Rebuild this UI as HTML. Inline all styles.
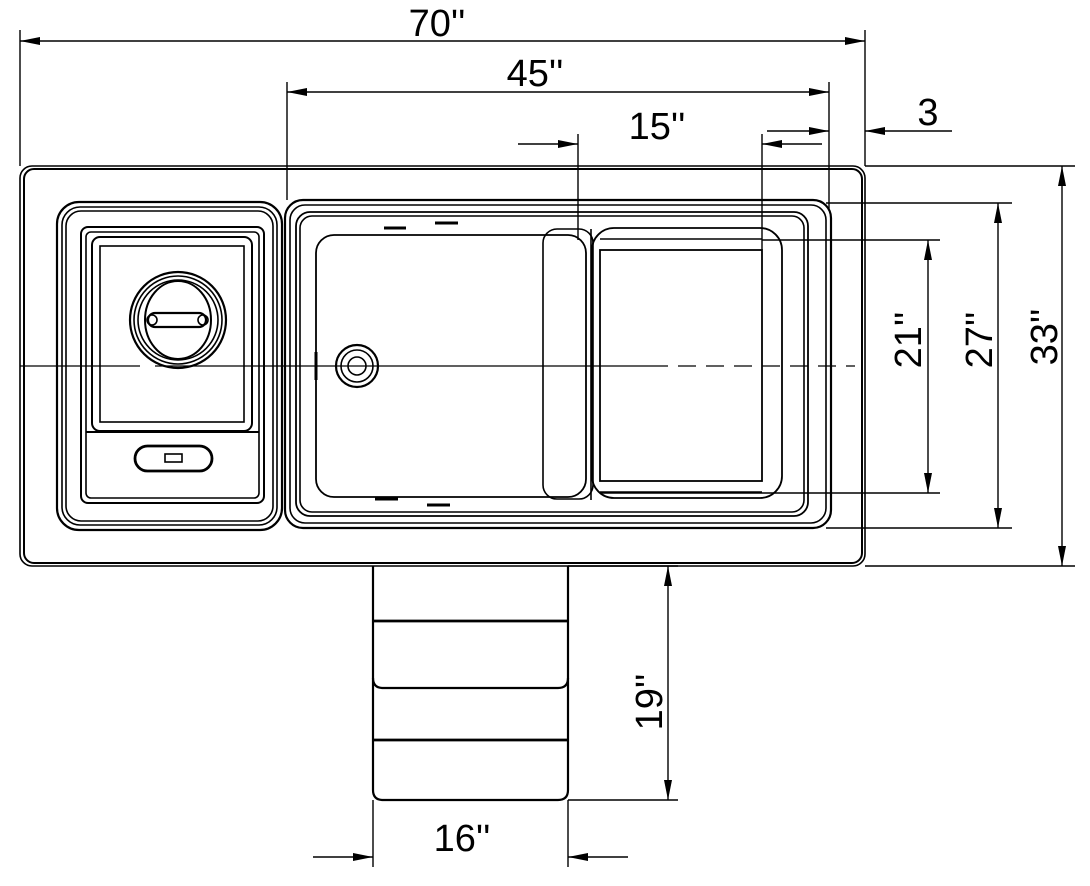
<!DOCTYPE html>
<html><head><meta charset="utf-8"><style>
html,body{margin:0;padding:0;background:#fff;}
svg{display:block;}
text{font-family:"Liberation Sans","DejaVu Sans",sans-serif;fill:#000;}
</style></head><body>
<svg width="1090" height="886" viewBox="0 0 1090 886" xmlns="http://www.w3.org/2000/svg">
<defs>
<marker id="a" viewBox="0 0 20 8" refX="20" refY="4" markerWidth="22" markerHeight="8" markerUnits="userSpaceOnUse" orient="auto-start-reverse"><path d="M0,0 L20,4 L0,8 z" fill="#000"/></marker>
</defs>
<g fill="none" stroke="#000" stroke-width="1.6">
<!-- countertop -->
<rect x="20" y="166" width="845" height="400" rx="12"/>
<rect x="24" y="169" width="838" height="394" rx="10" stroke-width="2"/>
<!-- left bowl -->
<rect x="57" y="202" width="225" height="328" rx="22" stroke-width="2.2"/>
<rect x="62" y="207" width="215" height="318" rx="18"/>
<rect x="66" y="211" width="207" height="310" rx="15"/>
<rect x="81" y="227" width="183" height="276" rx="7" stroke-width="2"/>
<rect x="86" y="232" width="173" height="266" rx="5"/>
<rect x="92" y="237" width="160" height="194" rx="8" stroke-width="2"/>
<rect x="100" y="246" width="144" height="176"/>
<line x1="86" y1="432" x2="259" y2="432" stroke-width="2"/>
<circle cx="178" cy="320" r="48" stroke-width="2.2"/>
<circle cx="178" cy="320" r="44"/>
<circle cx="178" cy="320" r="40"/>
<ellipse cx="178" cy="320" rx="33" ry="39" stroke-width="2"/>
<rect x="148" y="313" width="58" height="14" rx="7" stroke-width="2.2"/>
<circle cx="152" cy="320" r="5"/>
<circle cx="203" cy="320" r="5"/>
<rect x="135" y="446" width="77" height="25" rx="12.5" stroke-width="2.8"/>
<rect x="165" y="454" width="17" height="8"/>
<!-- right bowl -->
<rect x="285" y="200" width="546" height="328" rx="18" stroke-width="2.2"/>
<rect x="290" y="205" width="536" height="318" rx="15"/>
<rect x="296" y="212" width="512" height="304" rx="14" stroke-width="1.8"/>
<rect x="300" y="216" width="504" height="296" rx="12"/>
<rect x="316" y="235" width="270" height="262" rx="18" stroke-width="1.8"/>
<rect x="543" y="229" width="50" height="270" rx="14"/>
<line x1="591" y1="229" x2="591" y2="500"/>
<rect x="592" y="228" width="190" height="270" rx="22" stroke-width="1.8"/>
<rect x="600" y="250" width="162" height="231" stroke-width="1.8"/>
<line x1="600" y1="239" x2="762" y2="239"/>
<line x1="600" y1="492" x2="762" y2="492"/>
<circle cx="357" cy="366" r="21" stroke-width="2.2"/>
<circle cx="357" cy="366" r="16"/>
<circle cx="357" cy="366" r="9"/>
<line x1="316" y1="352" x2="316" y2="380" stroke-width="3"/>
<line x1="384" y1="228" x2="406" y2="228" stroke-width="3"/>
<line x1="435" y1="223" x2="458" y2="223" stroke-width="3"/>
<line x1="375" y1="499" x2="398" y2="499" stroke-width="3"/>
<line x1="427" y1="505" x2="450" y2="505" stroke-width="3"/>
<!-- centerline -->
<line x1="20" y1="366" x2="140" y2="366" stroke-width="1.3"/>
<line x1="155" y1="366" x2="650" y2="366" stroke-width="1.3"/>
<path d="M650 366 H855" stroke-dasharray="18 10" stroke-width="1.3"/>
<!-- drawer -->
<path d="M373 566 V790 Q373 800 383 800 H558 Q568 800 568 790 V566" stroke-width="2.2"/>
<line x1="373" y1="621" x2="568" y2="621" stroke-width="2.8"/>
<path d="M373 678 Q373 688 383 688 H558 Q568 688 568 678" stroke-width="2.2"/>
<line x1="373" y1="740" x2="568" y2="740" stroke-width="2.8"/>
</g>
<!-- dimensions -->
<g stroke="#000" stroke-width="1.4" fill="none">
<line x1="20" y1="30" x2="20" y2="166"/>
<line x1="865" y1="30" x2="865" y2="166"/>
<line x1="20" y1="41" x2="865" y2="41" marker-start="url(#a)" marker-end="url(#a)"/>
<line x1="287" y1="82" x2="287" y2="200"/>
<line x1="829" y1="82" x2="829" y2="210"/>
<line x1="287" y1="92" x2="829" y2="92" marker-start="url(#a)" marker-end="url(#a)"/>
<line x1="578" y1="134" x2="578" y2="240"/>
<line x1="762" y1="134" x2="762" y2="250"/>
<line x1="518" y1="144" x2="578" y2="144" marker-end="url(#a)"/>
<line x1="822" y1="144" x2="762" y2="144" marker-end="url(#a)"/>
<line x1="767" y1="131" x2="829" y2="131" marker-end="url(#a)"/>
<line x1="952" y1="131" x2="865" y2="131" marker-end="url(#a)"/>
<line x1="865" y1="166" x2="1075" y2="166"/>
<line x1="865" y1="566" x2="1075" y2="566"/>
<line x1="1062" y1="166" x2="1062" y2="566" marker-start="url(#a)" marker-end="url(#a)"/>
<line x1="826" y1="203" x2="1012" y2="203"/>
<line x1="826" y1="528" x2="1012" y2="528"/>
<line x1="998" y1="203" x2="998" y2="528" marker-start="url(#a)" marker-end="url(#a)"/>
<line x1="762" y1="240" x2="940" y2="240"/>
<line x1="600" y1="493" x2="940" y2="493"/>
<line x1="928" y1="240" x2="928" y2="493" marker-start="url(#a)" marker-end="url(#a)"/>
<line x1="568" y1="566" x2="678" y2="566"/>
<line x1="568" y1="800" x2="678" y2="800"/>
<line x1="668" y1="566" x2="668" y2="800" marker-start="url(#a)" marker-end="url(#a)"/>
<line x1="373" y1="800" x2="373" y2="867"/>
<line x1="568" y1="800" x2="568" y2="867"/>
<line x1="313" y1="857" x2="373" y2="857" marker-end="url(#a)"/>
<line x1="628" y1="857" x2="568" y2="857" marker-end="url(#a)"/>
</g>
<g font-size="38">
<text x="437" y="36" text-anchor="middle">70''</text>
<text x="535" y="86" text-anchor="middle">45''</text>
<text x="657" y="139" text-anchor="middle">15''</text>
<text x="928" y="125" text-anchor="middle">3</text>
<text x="462" y="851" text-anchor="middle">16''</text>
<text transform="translate(921,340) rotate(-90)" text-anchor="middle">21''</text>
<text transform="translate(992,340) rotate(-90)" text-anchor="middle">27''</text>
<text transform="translate(1057,337) rotate(-90)" text-anchor="middle">33''</text>
<text transform="translate(662,702) rotate(-90)" text-anchor="middle">19''</text>
</g>
</svg>
</body></html>
